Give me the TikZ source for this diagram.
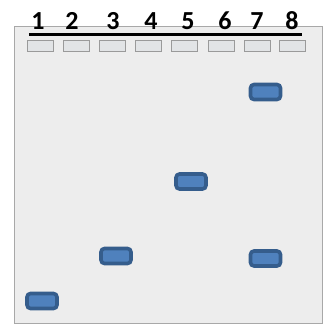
\documentclass[tikz,border=0pt]{standalone}
\usepackage{fontspec}
\setmainfont{Carlito}
\definecolor{gelbg}{HTML}{EDEDED}
\definecolor{geledge}{HTML}{A8A8A8}
\definecolor{wellfill}{HTML}{E2E4E6}
\definecolor{welledge}{HTML}{9A9A9A}
\definecolor{bandfill}{HTML}{4F81BD}
\definecolor{bandedge}{HTML}{355D8C}
\tikzset{
  gel/.style={fill=gelbg, draw=geledge, line width=1.2pt},
  well/.style={draw=welledge, fill=wellfill, line width=0.9pt, minimum width=26pt, minimum height=11pt, inner sep=0pt},
  band/.style={draw=bandedge, fill=bandfill, line width=3.6pt, rounded corners=3.5pt, minimum width=30pt, minimum height=15pt, inner sep=0pt},
  lanenum/.style={font=\bfseries\fontsize{26}{26}\selectfont, anchor=base, inner sep=0pt}
}
\begin{document}
\begin{tikzpicture}[x=1pt,y=1pt]
\useasboundingbox (0,0) rectangle (323,-325);
\fill[white] (0,0) rectangle (323,-325);
% gel slab
\node[gel, minimum width=308pt, minimum height=297pt, inner sep=0pt, anchor=north west] (gelslab) at (14,-26) {};
% lane numbers
\foreach \i/\x in {1/38,2/72,3/113,4/151,5/188,6/225,7/257,8/292}{
  \node[lanenum] (n\i) at (\x,-29) {\i};
}
\coordinate (ulL) at (29,-34.5);
\coordinate (ulR) at (302,-34.5);
\draw[line width=2.2pt] (ulL) -- (ulR);
% wells
\foreach \i/\x in {1/40.5,2/76.5,3/112.5,4/148.5,5/184.5,6/221,7/257,8/292.5}{
  \node[well] (w\i) at (\x,-46) {};
}
% bands
\node[band] (b1) at (42,-301) {};
\node[band] (b3) at (116,-256) {};
\node[band] (b5) at (191,-181.5) {};
\node[band] (b7a) at (265.5,-92) {};
\node[band] (b7b) at (265.5,-258.5) {};
\end{tikzpicture}
\end{document}
